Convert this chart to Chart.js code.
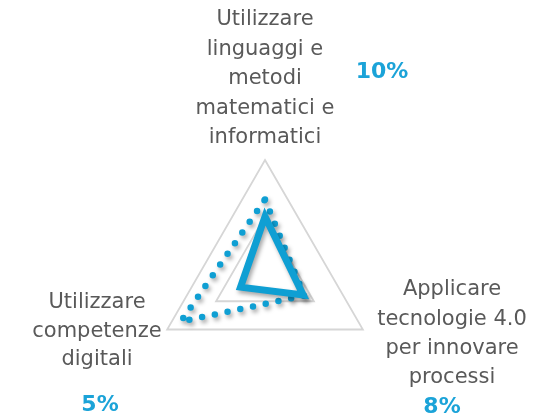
<!DOCTYPE html>
<html>
<head>
<meta charset="utf-8">
<script src="https://cdn.jsdelivr.net/npm/chart.js@4"></script>
<style>
  html, body { margin: 0; padding: 0; background: #ffffff; }
  #chart { display: block; }
</style>
</head>
<body>
<canvas id="chart" width="543" height="419"></canvas>
<script>
// Axis labels (clockwise from top)
const categories = [
    ['Utilizzare', 'linguaggi e', 'metodi', 'matematici e', 'informatici'],
    ['Applicare', 'tecnologie 4.0', 'per innovare', 'processi'],
    ['Utilizzare', 'competenze', 'digitali']
];
const percentLabels = ['10%', '8%', '5%'];

// Series values (scale 0..10)
const solidValues = [5.0, 3.9, 2.5];
const dottedValues = [6.5, 4.0, 8.6];

const blue = '#0f9fd3';
const gray = '#595959';

// Custom label placement, relative to the radar centre
const labelLayout = [
    { dx: 0, top: -253, step: 29.5 },
    { dx: 187, top: 17, step: 29.3 },
    { dx: -168, top: 30, step: 28.5 }
];
const percentLayout = [
    { dx: 117, dy: -201 },
    { dx: 177, dy: 134 },
    { dx: -165, dy: 132 }
];

const shadowPlugin = {
    id: 'shadow',
    beforeDatasetsDraw(chart) {
        const ctx = chart.ctx;
        ctx.save();
        ctx.shadowColor = 'rgba(0, 0, 0, 0.35)';
        ctx.shadowBlur = 4;
        ctx.shadowOffsetX = 2;
        ctx.shadowOffsetY = 3;
    },
    afterDatasetsDraw(chart) {
        chart.ctx.restore();
    }
};

const labelPlugin = {
    id: 'axisLabels',
    afterDraw(chart) {
        const ctx = chart.ctx;
        const scale = chart.scales.r;
        const cx = scale.xCenter;
        const cy = scale.yCenter;
        ctx.save();
        ctx.textAlign = 'center';
        ctx.textBaseline = 'middle';
        ctx.fillStyle = gray;
        ctx.font = '21px "DejaVu Sans"';
        categories.forEach((lines, i) => {
            const lay = labelLayout[i];
            lines.forEach((line, j) => {
                ctx.fillText(line, cx + lay.dx, cy + lay.top + j * lay.step);
            });
        });
        ctx.fillStyle = '#1ba3d8';
        ctx.font = 'bold 22px "DejaVu Sans"';
        percentLabels.forEach((p, i) => {
            ctx.fillText(p, cx + percentLayout[i].dx, cy + percentLayout[i].dy);
        });
        ctx.restore();
    }
};

new Chart(document.getElementById('chart'), {
    type: 'radar',
    data: {
        labels: categories,
        datasets: [
            {
                label: 'Solid',
                data: solidValues,
                borderColor: blue,
                borderWidth: 7,
                borderJoinStyle: 'miter',
                fill: false,
                pointRadius: 0
            },
            {
                label: 'Dotted',
                data: dottedValues,
                borderColor: blue,
                borderWidth: 6.5,
                borderDash: [0, 13],
                borderCapStyle: 'round',
                fill: false,
                pointRadius: 0
            }
        ]
    },
    options: {
        responsive: false,
        animation: false,
        devicePixelRatio: 1,
        layout: { padding: { left: 152, right: 165, top: 160, bottom: 33 } },
        plugins: {
            legend: { display: false },
            tooltip: { enabled: false }
        },
        scales: {
            r: {
                min: 0,
                max: 10,
                ticks: { stepSize: 5, display: false },
                grid: { color: '#d6d6d6', lineWidth: 1.8 },
                angleLines: { display: false },
                pointLabels: { display: false }
            }
        },
        elements: { line: { tension: 0 } }
    },
    plugins: [shadowPlugin, labelPlugin]
});
</script>
</body>
</html>
